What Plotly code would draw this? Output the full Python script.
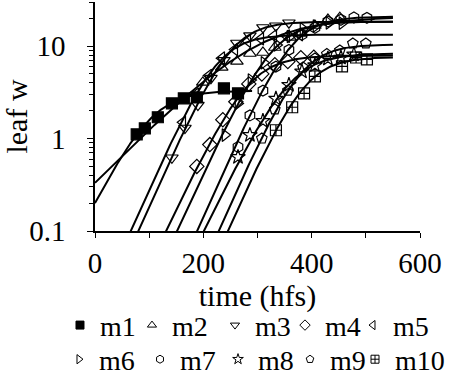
import plotly.graph_objects as go
import numpy as np

# ---------------- data ----------------
names = ["m1", "m2", "m3", "m4", "m5", "m6", "m7", "m8", "m9", "m10"]
symbols = ["square", "triangle-up-open", "triangle-down-open", "diamond-open",
           "triangle-left-open", "triangle-right-open", "hexagon-open",
           "star-open", "pentagon-open", "square-cross-open"]

m1_t = [77, 92, 116, 142, 164, 188, 238, 264]
m1_v = [1.11, 1.29, 1.70, 2.40, 2.72, 2.79, 3.49, 3.08]
m2_t = [199, 234, 262, 286, 310, 332, 360, 380, 406, 430, 452]
m2_v = [4.05, 5.88, 6.82, 8.32, 8.53, 9.66, 12.4, 13.7, 16.7, 19.4, 20.3]
m3_t = [142, 166, 190, 214, 238, 262, 286, 310, 334, 358]
m3_v = [0.62, 1.3, 2.3, 4.5, 7.0, 10.8, 13.0, 15.9, 16.6, 17.9]
m4_t = [188, 212, 236, 260, 284, 308, 332, 356, 380, 404]
m4_v = [0.50, 0.86, 1.6, 2.5, 3.9, 5.0, 6.3, 6.8, 7.5, 7.6]
m5_t = [162, 186, 210, 234, 258, 282, 306, 330, 354, 378]
m5_v = [1.50, 3.0, 4.8, 7.4, 9.2, 11.3, 12.0, 12.9, 12.8, 13.3]
m6_t = [240, 264, 288, 312, 336, 360, 384, 408, 432, 456]
m6_v = [1.09, 2.4, 4.3, 6.6, 10.3, 12.7, 15.4, 16.5, 17.8, 17.7]
m7_t = [264, 286, 310, 334, 358, 382, 406, 430, 454, 478, 502]
m7_v = [0.81, 1.78, 3.3, 6.0, 9.1, 13.3, 15.8, 18.5, 19.3, 20.4, 20.2]
m8_t = [264, 286, 310, 334, 358, 382, 406, 430, 454, 478]
m8_v = [0.63, 1.09, 1.55, 2.7, 3.8, 5.3, 6.2, 7.3, 7.5, 8.1]
m9_t = [308, 332, 356, 384, 406, 428, 452, 476, 500]
m9_v = [1.0, 2.07, 3.3, 5.88, 7.35, 8.2, 8.97, 10.7, 10.7]
m10_t = [334, 364, 386, 406, 456, 482, 502]
m10_v = [1.23, 2.18, 3.08, 4.70, 6.03, 7.53, 7.17]

# fitted logistic curves: plateau K, rate r (1/h), midpoint t0 (h), last hour drawn
fit_K = [3.3, 20.8, 18.4, 7.9, 13.3, 18.4, 20.8, 8.3, 10.4, 7.6]
fit_r = [0.0266, 0.0136, 0.030, 0.028, 0.030, 0.029, 0.030, 0.027, 0.030, 0.0296]
fit_t0 = [103, 303, 253, 286, 228, 330, 365, 363, 382, 390]
fit_end = [290, 550, 550, 550, 550, 550, 550, 550, 550, 550]

x_tickvals = [0, 100, 200, 300, 400, 500, 600]
x_ticktext = ["0", "", "200", "", "400", "", "600"]
y_tickvals = [0.1, 1, 10]
y_ticktext = ["0.1", "1", "10"]

series_t = [m1_t, m2_t, m3_t, m4_t, m5_t, m6_t, m7_t, m8_t, m9_t, m10_t]
series_v = [m1_v, m2_v, m3_v, m4_v, m5_v, m6_v, m7_v, m8_v, m9_v, m10_v]

# ---------------- layout: one small legend per entry (two rows of five) ----------------
leg_x = [-0.1077, 0.1138, 0.3692, 0.5846, 0.7938,
         -0.1108, 0.1385, 0.3785, 0.6000, 0.8000]
leg_y = [-0.303] * 5 + [-0.452] * 5

FONT = "Liberation Serif, Times New Roman, serif"
fig = go.Figure()

for K, r, t0, te in zip(fit_K, fit_r, fit_t0, fit_end):
    tt = np.linspace(0, te, 300)
    yy = K / (1 + np.exp(-r * (tt - t0)))
    fig.add_trace(go.Scatter(x=tt, y=yy, mode="lines",
                             line=dict(color="black", width=2),
                             showlegend=False, hoverinfo="skip"))

for name, sym, t, v in zip(names, symbols, series_t, series_v):
    fig.add_trace(go.Scatter(x=t, y=v, mode="markers", name=name,
                             marker=dict(symbol=sym, size=11, color="black",
                                         line=dict(color="black", width=1.2)),
                             showlegend=False))

legend_layout = {}
for i, (name, sym) in enumerate(zip(names, symbols)):
    key = "legend" if i == 0 else f"legend{i + 1}"
    fig.add_trace(go.Scatter(x=[None], y=[None], mode="markers", name=name,
                             legend=key,
                             marker=dict(symbol=sym, size=8, color="black",
                                         line=dict(color="black", width=1))))
    legend_layout[key] = dict(orientation="h", x=leg_x[i], y=leg_y[i],
                              xanchor="left", yanchor="top",
                              font=dict(family=FONT, size=28, color="black"),
                              bgcolor="rgba(0,0,0,0)")

fig.update_layout(
    width=458, height=378,
    margin=dict(l=95, r=38, t=2, b=147, autoexpand=False),
    paper_bgcolor="white", plot_bgcolor="white",
    font=dict(family=FONT, size=28, color="black"),
    **legend_layout,
)
fig.update_xaxes(range=[0, 600], tickvals=x_tickvals, ticktext=x_ticktext,
                 ticks="outside", ticklen=5, tickcolor="black", tickwidth=1,
                 showline=True, linecolor="black", linewidth=1.5,
                 showgrid=False, zeroline=False, automargin=False,
                 tickfont=dict(family=FONT, size=29),
                 title=dict(text="time (hfs)", font=dict(family=FONT, size=30), standoff=0))
fig.update_yaxes(type="log", range=[-1, np.log10(30)],
                 tickvals=y_tickvals, ticktext=y_ticktext,
                 ticks="outside", ticklen=6, tickcolor="black", tickwidth=1,
                 minor=dict(tickvals=[0.2, 0.3, 0.4, 0.5, 0.6, 0.7, 0.8, 0.9,
                                      2, 3, 4, 5, 6, 7, 8, 9, 20, 30],
                            ticks="outside", ticklen=4, tickcolor="black", showgrid=False),
                 showline=True, linecolor="black", linewidth=1.5,
                 showgrid=False, zeroline=False, automargin=False,
                 ticklabelstandoff=16,
                 tickfont=dict(family=FONT, size=29),
                 title=dict(text="leaf w", font=dict(family=FONT, size=30)))

fig.write_html("out.html", config={"displayModeBar": False},
               post_script="document.body.style.margin='0';")
